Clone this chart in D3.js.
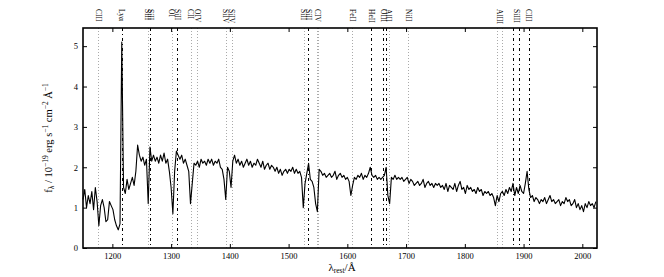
<!DOCTYPE html>
<html>
<head>
<meta charset="utf-8">
<script src="https://cdn.jsdelivr.net/npm/d3@7"></script>
<style>
  body { margin: 0; background: #fff; }
  text { font-family: "Liberation Serif", "DejaVu Serif", serif; fill: #000; }
</style>
</head>
<body>
<svg id="chart" width="664" height="277"></svg>
<script>
// spectrum, flux sampled every 3 A from 1150 A
const waveStart = 1150, waveStep = 3;
const flux = [
  1.20, 1.45, 1.00, 1.30, 1.10, 1.40, 0.95, 1.50, 1.15, 0.55,
  1.05, 1.20, 1.00, 0.65, 0.70, 1.15, 1.05, 0.95, 0.70, 0.55,
  0.45, 0.60, 5.10, 1.50, 1.35, 1.70, 1.45, 1.60, 1.75, 1.55,
  1.90, 2.55, 2.30, 2.15, 2.25, 2.05, 2.20, 1.10, 2.50, 2.15,
  2.30, 2.15, 2.25, 2.10, 2.30, 2.15, 2.35, 2.10, 2.20, 1.90,
  1.50, 0.85, 1.90, 2.40, 2.30, 2.20, 2.30, 2.10, 2.20, 2.05,
  1.90, 1.10, 1.60, 2.10, 2.05, 2.15, 2.00, 2.20, 2.10, 2.15,
  2.05, 2.20, 2.10, 2.20, 2.05, 2.15, 2.10, 2.20, 2.00, 1.95,
  1.70, 1.20, 2.00, 1.90, 1.50, 2.15, 2.30, 2.10, 2.20, 2.05,
  2.15, 2.00, 2.10, 2.20, 2.05, 2.15, 2.00, 2.10, 2.05, 2.20,
  2.10, 2.00, 2.15, 1.95, 2.05, 2.10, 1.95, 2.05, 2.00, 1.90,
  2.00, 1.85, 1.95, 1.80, 1.90, 1.95, 1.85, 1.95, 1.90, 2.00,
  1.85, 1.95, 1.85, 1.90, 1.75, 1.00, 1.60, 1.85, 2.10, 1.70,
  1.65, 1.50, 1.10, 0.90, 1.95, 1.90, 1.80, 1.85, 1.75, 1.80,
  1.85, 1.75, 1.80, 1.90, 1.70, 1.80, 1.85, 1.75, 1.80, 1.70,
  1.75, 1.65, 1.30, 1.55, 1.75, 1.70, 1.80, 1.75, 1.85, 1.70,
  1.80, 1.75, 1.85, 2.00, 1.80, 1.75, 1.80, 1.70, 1.75, 1.70,
  1.75, 1.80, 2.00, 1.30, 1.10, 1.75, 1.70, 1.80, 1.70, 1.75,
  1.70, 1.75, 1.65, 1.70, 1.75, 1.60, 1.70, 1.65, 1.55, 1.60,
  1.65, 1.55, 1.60, 1.70, 1.50, 1.60, 1.65, 1.55, 1.60, 1.50,
  1.60, 1.55, 1.60, 1.50, 1.55, 1.45, 1.60, 1.40, 1.55, 1.50,
  1.45, 1.60, 1.40, 1.55, 1.65, 1.45, 1.50, 1.35, 1.55, 1.45,
  1.50, 1.40, 1.45, 1.35, 1.50, 1.40, 1.45, 1.30, 1.40, 1.35,
  1.40, 1.30, 1.35, 1.25, 1.05, 1.30, 1.15, 1.35, 1.40, 1.30,
  1.45, 1.35, 1.50, 1.40, 1.60, 1.30, 1.50, 1.35, 1.55, 1.40,
  1.35, 1.60, 1.90, 1.45, 1.25, 1.30, 1.15, 1.25, 1.20, 1.10,
  1.20, 1.15, 1.25, 1.10, 1.20, 1.30, 1.15, 1.20, 1.10, 1.15,
  1.20, 1.05, 1.15, 1.10, 1.25, 1.15, 1.20, 1.05, 1.10, 1.20,
  1.00, 1.10, 0.95, 1.05, 0.90, 1.10, 1.00, 1.15, 1.05, 1.10,
  1.00, 1.15
];

const xTicks = [1200, 1300, 1400, 1500, 1600, 1700, 1800, 1900, 2000];
const yTicks = [0, 1, 2, 3, 4, 5];

// interstellar absorption lines (dotted) and nebular / fine-structure lines (dash-dot)
const ismLines = [1175.7, 1260.4, 1302.2, 1334.5, 1343.4, 1393.8, 1402.8,
                  1526.7, 1548.2, 1550.8, 1608.5, 1670.8, 1703.4, 1854.7, 1862.8];
const nebularLines = [1215.7, 1264.7, 1309.3, 1533.4, 1640.4, 1660.8, 1666.1,
                      1882.7, 1892.0, 1908.7];

const labelTexts = ["CIII", "Lyα", "SiII", "SiII", "OI", "SiII", "CII", "OIV",
                    "SiIV", "SiIV", "SiII", "SiII", "CIV", "FeII", "HeII",
                    "OIII", "AlII", "NiII", "AlIII", "SiIII", "CIII"];
const labelWaves = [1175.7, 1215.7, 1259.0, 1265.5, 1301.0, 1310.5, 1333.5, 1344.5,
                    1392.5, 1403.5, 1525.5, 1534.0, 1549.5, 1608.5, 1640.4,
                    1662.0, 1670.0, 1703.4, 1858.8, 1887.4, 1908.7];

const margin = {top: 28, right: 67, bottom: 29, left: 83},
  W = 664, H = 277,
  x0 = margin.left, x1 = W - margin.right,
  y0 = H - margin.bottom, y1 = margin.top;

const svg = d3.select("#chart");

const x = d3.scaleLinear().domain([1150, 2025]).range([x0, x1]);
const y = d3.scaleLinear().domain([0, 5.45]).range([y0, y1]);

// marker lines
const marks = svg.append("g");
marks.selectAll("line.ism")
  .data(ismLines)
  .join("line")
    .attr("class", "ism")
    .attr("x1", d => Math.round(x(d)) + 0.5)
    .attr("x2", d => Math.round(x(d)) + 0.5)
    .attr("y1", y1).attr("y2", y0)
    .attr("stroke", "#aaa")
    .attr("stroke-width", 1)
    .attr("stroke-dasharray", "1,2");

marks.selectAll("line.neb")
  .data(nebularLines)
  .join("line")
    .attr("class", "neb")
    .attr("x1", d => Math.round(x(d)) + 0.5)
    .attr("x2", d => Math.round(x(d)) + 0.5)
    .attr("y1", y1).attr("y2", y0)
    .attr("stroke", "#000")
    .attr("stroke-width", 1)
    .attr("stroke-dasharray", "3,3,1,3");

// labels above the frame
svg.append("g").selectAll("text")
  .data(labelTexts)
  .join("text")
    .attr("transform", (d, i) => `translate(${x(labelWaves[i])},9) rotate(90)`)
    .attr("text-anchor", "start")
    .attr("dominant-baseline", "central")
    .style("font-size", "7.5px")
    .text(d => d);

// spectrum
const line = d3.line()
  .x((d, i) => x(waveStart + i * waveStep))
  .y(d => y(d));

svg.append("path")
  .datum(flux)
  .attr("d", line)
  .attr("fill", "none")
  .attr("stroke", "#000")
  .attr("stroke-width", 1.1)
  .attr("stroke-linejoin", "round");

// axes, ticks pointing inward
function styleAxis(g) {
  g.select(".domain").remove();
  g.selectAll(".tick line").attr("stroke", "#000").attr("stroke-width", 1);
  g.selectAll(".tick text").style("font-size", "8.5px");
}

const fmt = d3.format("d");

svg.append("g")
  .attr("transform", `translate(0,${y0})`)
  .call(d3.axisBottom(x).tickValues(xTicks).tickFormat(fmt).tickSizeInner(-4).tickSizeOuter(0).tickPadding(5))
  .call(styleAxis);

svg.append("g")
  .attr("transform", `translate(0,${y1})`)
  .call(d3.axisTop(x).tickValues(xTicks).tickSizeInner(-4).tickSizeOuter(0).tickFormat(""))
  .call(styleAxis);

svg.append("g")
  .attr("transform", `translate(${x0},0)`)
  .call(d3.axisLeft(y).tickValues(yTicks).tickFormat(fmt).tickSizeInner(-4).tickSizeOuter(0).tickPadding(5))
  .call(styleAxis);

svg.append("g")
  .attr("transform", `translate(${x1},0)`)
  .call(d3.axisRight(y).tickValues(yTicks).tickSizeInner(-4).tickSizeOuter(0).tickFormat(""))
  .call(styleAxis);

// frame
svg.append("rect")
  .attr("x", x0).attr("y", y1)
  .attr("width", x1 - x0).attr("height", y0 - y1)
  .attr("fill", "none")
  .attr("stroke", "#000")
  .attr("stroke-width", 1.6);

// axis titles
const xt = svg.append("text")
  .attr("x", 342)
  .attr("y", 271)
  .attr("text-anchor", "middle")
  .style("font-size", "11px");
xt.append("tspan").text("λ");
xt.append("tspan").attr("baseline-shift", "-20%").style("font-size", "7.5px").text("rest");
xt.append("tspan").attr("baseline-shift", "0%").text("/Å");

const yt = svg.append("text")
  .attr("transform", `translate(52,${(y0 + y1) / 2}) rotate(-90)`)
  .attr("text-anchor", "middle")
  .style("font-size", "10.5px");
yt.append("tspan").text("f");
yt.append("tspan").attr("baseline-shift", "-25%").style("font-size", "7.5px").text("λ");
yt.append("tspan").text(" / 10");
yt.append("tspan").attr("baseline-shift", "super").style("font-size", "7.5px").text("−19");
yt.append("tspan").text(" erg s");
yt.append("tspan").attr("baseline-shift", "super").style("font-size", "7.5px").text("−1");
yt.append("tspan").text(" cm");
yt.append("tspan").attr("baseline-shift", "super").style("font-size", "7.5px").text("−2");
yt.append("tspan").text(" Å");
yt.append("tspan").attr("baseline-shift", "super").style("font-size", "7.5px").text("−1");
</script>
</body>
</html>
